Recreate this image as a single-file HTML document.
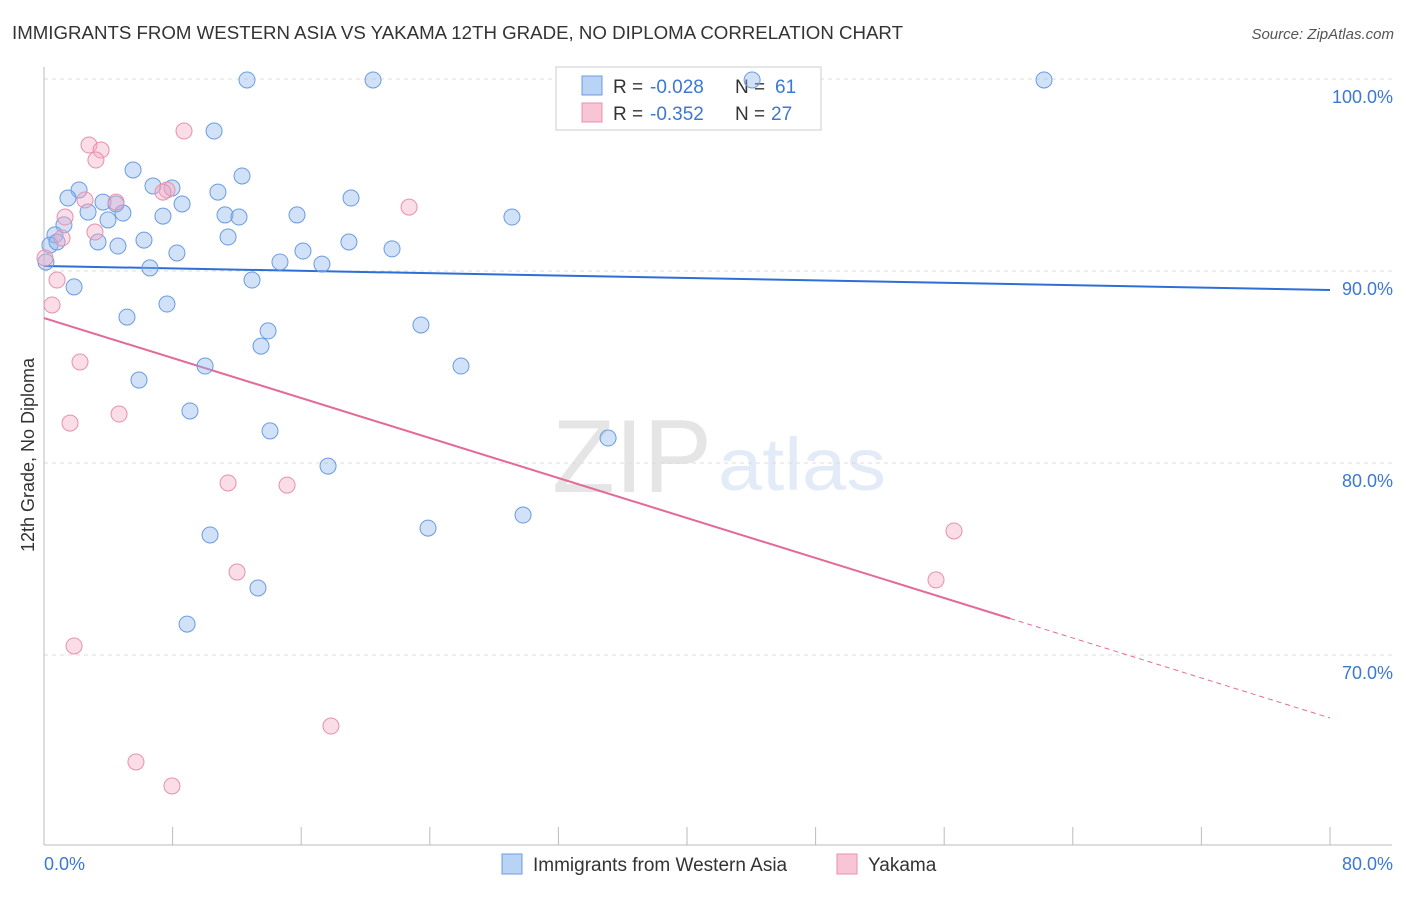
<!DOCTYPE html>
<html><head><meta charset="utf-8"><style>
body{margin:0;background:#fff;font-family:"Liberation Sans",sans-serif;}
svg text{font-family:"Liberation Sans",sans-serif;}
</style></head><body>
<svg id="chart" width="1406" height="892" xmlns="http://www.w3.org/2000/svg">
<text x="12" y="39" font-size="18" fill="#333" textLength="891" lengthAdjust="spacingAndGlyphs">IMMIGRANTS FROM WESTERN ASIA VS YAKAMA 12TH GRADE, NO DIPLOMA CORRELATION CHART</text>
<text x="1394" y="39" font-size="15" fill="#555" text-anchor="end" font-style="italic">Source: ZipAtlas.com</text>
<text transform="translate(34,455) rotate(-90)" font-size="18" fill="#333" text-anchor="middle">12th Grade, No Diploma</text>
<g opacity="0.25">
<text x="552" y="492" font-size="104" fill="#999" font-family="Liberation Serif" textLength="160" lengthAdjust="spacingAndGlyphs">ZIP</text>
<text x="718" y="490" font-size="74" fill="#8fb3e0" textLength="168" lengthAdjust="spacingAndGlyphs">atlas</text>
</g>
<g id="grid"></g><g id="axes"></g>
<g>
<rect x="556" y="67" width="265" height="63" fill="#fff" stroke="#ccc"/>
<rect x="582" y="76" width="20" height="19" fill="#b9d3f5" stroke="#6a9be0"/>
<rect x="582" y="103" width="20" height="19" fill="#f8c5d5" stroke="#e890ad"/>
<text x="613" y="93" font-size="19" fill="#333">R =</text>
<text x="650" y="93" font-size="19" fill="#3a78d4">-0.028</text>
<text x="735" y="93" font-size="19" fill="#333">N =</text>
<text x="775" y="93" font-size="19" fill="#3a78d4">61</text>
<text x="613" y="120" font-size="19" fill="#333">R =</text>
<text x="650" y="120" font-size="19" fill="#3a78d4">-0.352</text>
<text x="735" y="120" font-size="19" fill="#333">N =</text>
<text x="771" y="120" font-size="19" fill="#3a78d4">27</text>
</g>
<g id="lines"></g><g id="points"></g>
<g>
<rect x="502" y="854" width="20" height="20" fill="#b9d3f5" stroke="#6a9be0"/>
<text x="533" y="871" font-size="19" fill="#333">Immigrants from Western Asia</text>
<rect x="837" y="854" width="20" height="20" fill="#f8c5d5" stroke="#e890ad"/>
<text x="868" y="871" font-size="19" fill="#333">Yakama</text>
</g>
</svg>
<script>
const blueX=[12.63,20.47,44.05,62.21,10.58,5.54,12.32,6.78,7.96,2.18,10.82,1.49,19.10,3.67,8.59,4.48,2.74,4.91,7.40,11.26,12.13,15.74,29.11,3.98,1.24,0.68,11.45,6.22,3.36,4.60,18.97,21.65,16.11,8.27,0.37,0.12,14.68,17.29,6.59,12.94,1.87,7.65,5.16,23.45,13.94,13.50,10.02,25.94,5.91,9.08,14.06,35.09,17.67,29.80,23.89,10.33,13.31,8.90,0.81];
const blueY=[99.95,99.95,99.95,99.95,97.29,95.26,94.95,94.43,94.32,94.22,94.11,93.80,93.80,93.59,93.49,93.49,93.07,93.02,92.86,92.92,92.81,92.92,92.81,92.66,92.40,91.88,91.77,91.61,91.51,91.30,91.51,91.15,91.04,90.94,91.35,90.47,90.47,90.36,90.16,89.53,89.17,88.28,87.60,87.19,86.88,86.09,85.05,85.05,84.32,82.71,81.67,81.30,79.84,77.29,76.61,76.25,73.49,71.61,91.51];
const pinkX=[2.80,3.55,8.71,3.23,7.65,4.48,2.55,1.31,3.17,1.12,22.71,0.81,0.50,2.24,4.67,1.62,11.45,15.12,56.61,12.01,55.49,1.87,17.85,5.72,7.96,7.40,0.06];
const pinkY=[96.56,96.30,97.29,95.78,94.22,93.59,93.70,92.81,92.03,91.72,93.33,89.53,88.23,85.26,82.55,82.08,78.96,78.85,76.46,74.32,73.91,70.47,66.30,64.43,63.18,94.11,90.68];
const blueTrend=[90.26,89.01];
const pinkTrend=[87.55,66.72];
const pinkSolidEnd=60.1;
const yTicks=[100,90,80,70];
const yTickLabels=["100.0%","90.0%","80.0%","70.0%"];
const xTicks=[0,8,16,24,32,40,48,56,64,72,80];
const xLabels=["0.0%","80.0%"];
const NS="http://www.w3.org/2000/svg";
const X=v=>44+v/80*1286;
const Y=v=>79+(100-v)*19.2;
function mk(parent,tag,attrs){const e=document.createElementNS(NS,tag);for(const k in attrs)e.setAttribute(k,attrs[k]);document.getElementById(parent).appendChild(e);return e;}
yTicks.forEach((t,i)=>{
 const g=mk('grid','line',{x1:44,x2:1392,y1:Y(t),y2:Y(t),stroke:'#ddd','stroke-dasharray':'4,4'});
 
 
 const l=mk('axes','text',{x:1393,y:Y(t)+24,'font-size':18,fill:'#3a78d4','text-anchor':'end'});
 l.textContent=yTickLabels[i];
 
 
});
const ax=mk('axes','line',{x1:44,x2:1392,y1:845,y2:845,stroke:'#bbb'});


const ay=mk('axes','line',{x1:44,x2:44,y1:67,y2:845,stroke:'#bbb'});


xTicks.forEach(t=>{
 const k=mk('axes','line',{x1:X(t),x2:X(t),y1:827,y2:845,stroke:'#bbb'});
 
 
});
const xl0=mk('axes','text',{x:44,y:870,'font-size':18,fill:'#3a78d4'});xl0.textContent=xLabels[0];


const xl1=mk('axes','text',{x:1393,y:870,'font-size':18,fill:'#3a78d4','text-anchor':'end'});xl1.textContent=xLabels[1];


blueX.forEach((v,i)=>{
 const c=mk('points','circle',{cx:X(v),cy:Y(blueY[i]),r:8,fill:'rgba(140,182,238,0.4)',stroke:'#6a9be0','stroke-width':1});
 
 
});
pinkX.forEach((v,i)=>{
 const c=mk('points','circle',{cx:X(v),cy:Y(pinkY[i]),r:8,fill:'rgba(245,170,196,0.4)',stroke:'#e890ad','stroke-width':1});
 
 
});
const bl=mk('lines','line',{x1:X(0),y1:Y(blueTrend[0]),x2:X(80),y2:Y(blueTrend[1]),stroke:'#2e6fd6','stroke-width':2});


const py=x=>pinkTrend[0]+(pinkTrend[1]-pinkTrend[0])*x/80;
const pl=mk('lines','line',{x1:X(0),y1:Y(pinkTrend[0]),x2:X(pinkSolidEnd),y2:Y(py(pinkSolidEnd)),stroke:'#e36a98','stroke-width':2});


const pd=mk('lines','line',{x1:X(pinkSolidEnd),y1:Y(py(pinkSolidEnd)),x2:X(80),y2:Y(pinkTrend[1]),stroke:'#e36a98','stroke-width':1,'stroke-dasharray':'5,4'});


</script>
</body></html>
